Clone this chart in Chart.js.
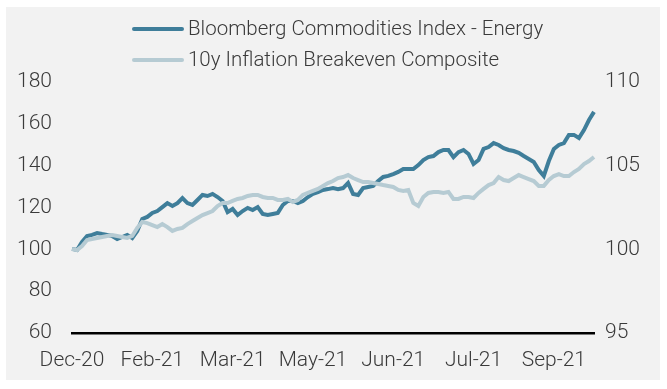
<!DOCTYPE html>
<html>
<head>
<meta charset="utf-8">
<script src="https://cdn.jsdelivr.net/npm/chart.js@4"></script>
<style>
    body { margin: 0; background: #ffffff; }
    #panel { position: absolute; left: 6px; top: 7px; width: 654px; height: 373px; background: #f2f2f2; }
    #chart { position: absolute; left: 0; top: 0; }
    .legend { position: absolute; left: 126px; font-family: Roboto, sans-serif; font-weight: 300; font-size: 20.5px; color: #3a3a3a; white-space: nowrap; }
    .legend span { display: inline-block; width: 52px; height: 4px; border-radius: 2px; margin-right: 4px; vertical-align: middle; position: relative; top: -1px; }
</style>
</head>
<body>
<div id="panel">
    <canvas id="chart" width="654" height="373"></canvas>
    <div class="legend" style="top: 9px;"><span style="background:#3f7e9a"></span>Bloomberg Commodities Index - Energy</div>
    <div class="legend" style="top: 40px;"><span style="background:#b6cbd3"></span>10y Inflation Breakeven Composite</div>
</div>
<script>
// tick labels on the x axis, one every 16 points
const tickLabels = ["Dec-20", "Feb-21", "Mar-21", "May-21", "Jun-21", "Jul-21", "Sep-21"];
const tickEvery = 16;

// Bloomberg Commodities Index - Energy (rebased, left axis)
const energy = [
    100.2, 99.7, 103.5, 106.4, 106.9, 107.8, 107.3, 106.9, 106.4, 104.9,
    105.9, 106.9, 105.4, 108.8, 114.5, 115.5, 117.4, 118.3, 120.2, 122.1,
    120.7, 122.1, 124.5, 122.1, 121.2, 123.6, 126.0, 125.5, 126.5, 125.0,
    123.1, 117.8, 119.3, 116.4, 118.3, 119.8, 118.8, 120.2, 116.9, 116.4,
    116.9, 117.4, 121.2, 123.1, 123.1, 122.1, 123.1, 125.0, 126.5, 127.4,
    128.4, 128.8, 129.3, 128.8, 129.3, 131.7, 126.5, 126.0, 129.3, 129.8,
    130.3, 132.7, 134.6, 135.1, 136.0, 137.0, 138.4, 138.4, 138.4, 140.3,
    142.7, 144.1, 144.6, 146.5, 147.5, 147.5, 144.1, 146.5, 147.5, 145.6,
    140.8, 142.7, 148.0, 148.9, 150.8, 149.9, 148.4, 147.5, 147.0, 146.1,
    144.6, 143.2, 141.8, 137.9, 135.1, 142.2, 148.0, 149.9, 150.8, 154.7,
    154.7, 153.2, 157.0, 161.8, 165.7
];

// 10y Inflation Breakeven Composite (rebased, right axis)
const breakeven = [
    100.02, 99.96, 100.20, 100.56, 100.62, 100.68, 100.74, 100.80, 100.86, 100.80,
    100.74, 100.68, 100.80, 101.28, 101.63, 101.57, 101.45, 101.33, 101.51, 101.33,
    101.10, 101.22, 101.28, 101.51, 101.69, 101.87, 102.05, 102.17, 102.29, 102.59,
    102.77, 102.77, 102.89, 103.01, 103.07, 103.19, 103.25, 103.25, 103.13, 103.07,
    103.07, 102.95, 102.95, 103.01, 102.83, 102.95, 103.25, 103.37, 103.49, 103.61,
    103.79, 103.96, 104.08, 104.26, 104.32, 104.44, 104.26, 104.14, 104.02, 104.02,
    103.96, 103.90, 103.84, 103.79, 103.73, 103.55, 103.49, 103.55, 102.77, 102.59,
    103.13, 103.37, 103.43, 103.43, 103.37, 103.43, 103.01, 103.01, 103.13, 103.13,
    103.07, 103.37, 103.61, 103.84, 103.96, 104.32, 104.14, 104.08, 104.26, 104.44,
    104.32, 104.20, 104.08, 103.79, 103.79, 104.14, 104.38, 104.50, 104.38, 104.38,
    104.62, 104.80, 105.10, 105.28, 105.52
];

const labels = energy.map(function (v, i) {
    return i % tickEvery === 0 ? tickLabels[i / tickEvery] : "";
});

const tickFont = { family: "Roboto", size: 21, weight: 300 };

new Chart(document.getElementById("chart"), {
    type: "line",
    data: {
        labels: labels,
        datasets: [
            {
                label: "10y Inflation Breakeven Composite",
                data: breakeven,
                yAxisID: "y2",
                borderColor: "#b6cbd3",
                borderWidth: 4,
                pointRadius: 0,
                tension: 0,
            },
            {
                label: "Bloomberg Commodities Index - Energy",
                data: energy,
                yAxisID: "y",
                borderColor: "#3f7e9a",
                borderWidth: 4,
                pointRadius: 0,
                tension: 0,
            },
        ],
    },
    options: {
        responsive: false,
        animation: false,
        layout: { padding: { top: 75 } },
        plugins: {
            legend: { display: false },
            tooltip: { enabled: false },
        },
        scales: {
            x: {
                offset: false,
                grid: { display: false, drawTicks: false },
                border: { display: true, color: "#000000", width: 2.5 },
                ticks: {
                    autoSkip: false,
                    maxRotation: 0,
                    padding: 15,
                    color: "#3a3a3a",
                    font: tickFont,
                },
                afterFit: function (scale) { scale.height = 47; },
            },
            y: {
                position: "left",
                min: 60,
                max: 180,
                grid: { display: false, drawTicks: false },
                border: { display: false },
                ticks: { stepSize: 20, padding: 20, color: "#3a3a3a", font: tickFont },
                afterFit: function (scale) { scale.width = 66; },
            },
            y2: {
                position: "right",
                min: 95,
                max: 110,
                grid: { display: false, drawTicks: false },
                border: { display: false },
                ticks: { stepSize: 5, padding: 11, color: "#3a3a3a", font: tickFont },
                afterFit: function (scale) { scale.width = 66; },
            },
        },
    },
});
</script>
</body>
</html>
